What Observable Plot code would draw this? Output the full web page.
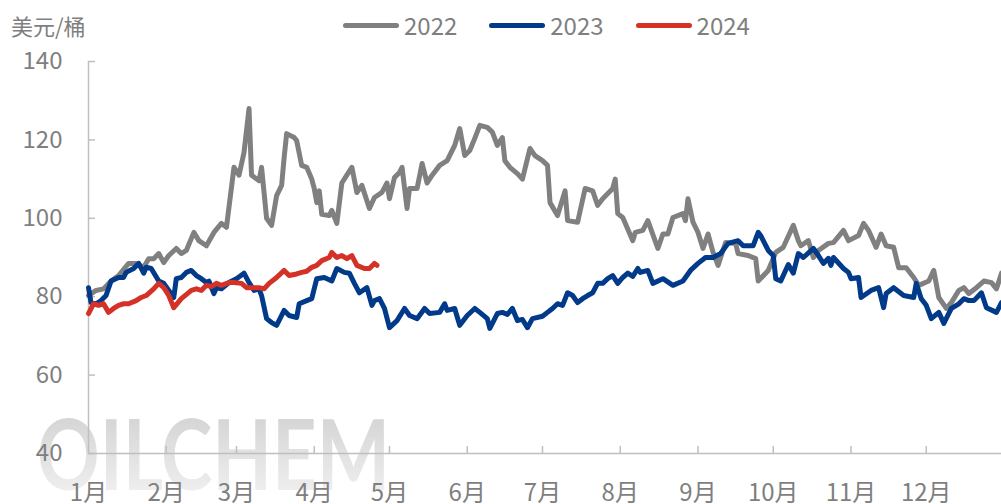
<!DOCTYPE html>
<html>
<head>
<meta charset="utf-8">
<script src="https://cdn.jsdelivr.net/npm/d3@7"></script>
<script src="https://cdn.jsdelivr.net/npm/@observablehq/plot@0.6"></script>
<style>
  html, body { margin: 0; padding: 0; background: #fff; }
  #wrap { position: relative; width: 1001px; height: 504px; overflow: hidden;
          font-family: "Noto Sans CJK SC", "Noto Sans", sans-serif; color: #7f7f7f; }
  #wm { position: absolute; left: 0; top: 0; }
  #chart { position: absolute; left: 0; top: 0; }
  #unit { position: absolute; left: 11px; top: 9px; font-size: 22px; line-height: 32px; color: #7f7f7f; }
  #legend { position: absolute; left: 343px; top: 8px; display: flex; align-items: center; height: 34px; }
  .item { display: flex; align-items: center; margin-right: 32px; }
  .sw { width: 56px; height: 5px; border-radius: 3px; margin-right: 5px; }
  .lab { font-size: 24px; line-height: 34px; color: #7f7f7f; }
</style>
</head>
<body>
<div id="wrap">
  <svg id="wm" width="1001" height="504">
    <defs>
      <linearGradient id="wmg" x1="0" y1="0" x2="0" y2="1">
        <stop offset="0" stop-color="#cdcdcd"/>
        <stop offset="1" stop-color="#f5f5f5"/>
      </linearGradient>
    </defs>
    <text x="37" y="490" font-size="97" font-family="Lato, 'Open Sans', sans-serif" font-weight="700"
          textLength="353" lengthAdjust="spacingAndGlyphs" fill="url(#wmg)">OILCHEM</text>
  </svg>
  <div id="chart"></div>
  <div id="unit">美元/桶</div>
  <div id="legend"></div>
</div>
<script>
// ---- data (day of year, USD/barrel) ----
const years = ["2022", "2023", "2024"];
const colors = ["#808080", "#023a8a", "#d43127"];

const days2022 = [0,3,6,9,12,16,19,22,24,26,28,30,32,35,37,39,42,44,47,50,53,55,58,60,62,64,65,68,69,71,73,75,77,78,79,82,83,85,87,89,90,91,92,93,96,97,99,101,103,105,107,109,112,114,117,119,120,122,124,125,127,128,131,133,135,137,140,143,146,148,150,152,154,156,159,161,163,165,166,168,171,173,176,178,181,183,184,187,190,191,195,198,201,203,205,209,210,211,213,217,218,221,223,227,229,231,233,237,238,239,241,243,245,247,249,251,254,258,259,263,266,267,271,274,277,281,283,284,287,289,291,295,297,301,303,307,309,311,314,316,318,321,323,326,329,331,335,337,339,342,344,347,349,351,354,357,360,362,364];
const vals2022 = [80.3,81.6,82,84,85.4,88.5,88.5,87.5,89.7,89.7,91,88.7,90.5,92.3,91,91.8,96.4,94.3,93,96.4,98.7,97.7,113,111,116.8,128,111,109.6,113,100,98.2,105.8,108.4,115.5,121.6,120.6,119.8,113.5,113,110,107.6,104,107,101,100.7,102,98.7,109,111,113,106.6,108.4,102.5,105.3,106.6,109,105,110.4,111.7,113,102.5,107.6,107.6,114,109,111,113.5,114.7,118.6,122.9,116,117.3,120.4,123.7,123.2,122,118.6,120.6,114.7,113,111.4,110,117.8,116,114.7,113.5,104,100.7,107,99.4,99,107.6,107,103.3,105,107.6,110,101.2,100.2,94.3,96.4,96.9,99.4,92.3,96,96,100.2,101.2,99.4,105,99,96.4,92.3,96,91.3,88,93.8,93.6,91,90.5,89.7,84,86.7,91.3,92.6,98.2,94.3,93,94.3,90,91.8,93.6,93.8,96.9,94.3,95.6,98.7,96.9,92.6,96,93,92.6,87.4,87.4,84.9,82.9,84,86.7,79.8,77,78.5,81.6,82.3,80.8,82.3,84,83.6,82,86];

const days2023 = [0,1,3,5,7,9,12,14,15,18,20,22,23,25,28,30,32,34,35,37,39,41,43,45,47,48,50,51,53,56,59,62,64,66,68,69,71,73,75,78,80,83,84,87,89,91,94,97,99,102,104,106,108,111,113,114,116,118,120,123,126,128,131,134,136,140,142,143,146,148,151,154,156,159,160,163,165,167,169,171,173,175,177,181,183,185,187,189,191,193,195,197,199,201,203,205,207,209,211,213,215,217,219,220,223,225,229,233,237,240,243,246,249,252,255,259,261,265,267,268,271,273,274,276,279,281,283,285,289,291,293,295,296,297,301,303,304,307,308,312,315,317,318,321,325,329,330,332,334,336,339,341,344,347,349,351,353,356,358,362,364];
const vals2023 = [82.3,78.5,78.2,79,80.3,84,84.9,84.9,86.2,87.2,88.5,86,87.5,87.2,84,83.4,81.6,79.8,84.6,84.9,86.2,86.7,85.4,84.6,83.6,84,80.8,82.3,82,83.6,84.6,86,83.6,81.6,82,80.3,74.4,73.4,72.7,76.5,75.2,74.7,78.2,79,79.5,84.6,84.9,84,87.2,86.2,86,83.4,81,82.3,77.8,79,79.5,77,72.1,73.9,77,75.2,74.4,77,75.7,76,78.2,76.5,77,72.7,75.2,77,76,74.4,71.9,75.7,76,75.5,77,73.9,74.2,72.1,74.4,75,76,77,78.2,77.8,81,80.3,78.5,79.5,80.3,81,83.4,83.4,84.6,85.4,83.4,84.9,86,85.2,87.2,86.2,86.7,83.4,84.6,82.9,84,86.7,88.5,90,90,91,93.6,94.3,93,93,96.4,95.6,91.8,90.5,84.6,84,88.2,86,91,90,92.3,90.5,88.5,89.8,88,90,87.2,86.2,84.6,84.9,79.8,81.6,82.3,77.2,80.8,82.3,80.3,79.8,83.4,79.5,77.8,74.4,76,73.2,77,78.2,79.5,79,79,81,77.2,76,78.5];

const days2024 = [0,2,4,6,8,10,12,14,16,19,21,23,26,28,30,32,34,37,41,43,45,47,49,51,53,56,58,61,63,65,68,70,72,75,78,80,83,85,87,89,91,93,96,97,99,101,103,105,107,110,112,114,115];
const vals2024 = [75.7,78.2,77.8,78.2,76,77,77.8,78.2,78.2,79,79.8,80.3,82,83.4,82.3,80.3,77.2,79.5,81.6,82,81.6,82.9,82.6,83.4,82.9,83.6,83.6,83.4,82.3,82.3,82.3,82,83.4,84.9,86.7,85.4,85.8,86.2,86.5,87.5,88,89.2,90,91.3,90,90.5,89.7,90.5,88,87.2,87.2,88.5,88];

const monthStartDays = [0,31,59,90,120,151,181,212,243,273,304,334];
const monthLabels = ["1月","2月","3月","4月","5月","6月","7月","8月","9月","10月","11月","12月"];
const yTicks = [40,60,80,100,120,140];

// ---- build table ----
const seriesDays = [days2022, days2023, days2024];
const seriesVals = [vals2022, vals2023, vals2024];
const rows = [];
years.forEach((yr, k) => seriesDays[k].forEach((d, i) => rows.push({year: yr, day: d, value: seriesVals[k][i]})));

const W = 1001, H = 504, mL = 88, mR = 0, mT = 61, mB = 51;
const axisColor = "#bfbfbf", textColor = "#7f7f7f", tickLen = 7;

const chart = Plot.plot({
  width: W, height: H,
  marginLeft: mL, marginRight: mR, marginTop: mT, marginBottom: mB,
  style: {background: "transparent", fontFamily: '"Noto Sans CJK SC", "Noto Sans", sans-serif', overflow: "visible"},
  x: {domain: [0, 364], axis: null, label: null},
  y: {domain: [40, 140], axis: null, label: null},
  color: {domain: years, range: colors},
  marks: [
    Plot.ruleX([0], {stroke: axisColor, strokeWidth: 1.5}),
    Plot.ruleY([40], {stroke: axisColor, strokeWidth: 1.5}),
    Plot.tickY(yTicks, {y: d => d, stroke: axisColor, strokeWidth: 1.5, insetRight: (W - mL - mR) - tickLen}),
    Plot.tickX(monthStartDays, {x: d => d, stroke: axisColor, strokeWidth: 1.5, insetTop: (H - mT - mB) - tickLen}),
    Plot.axisY(yTicks, {tickSize: 0, tickPadding: 26, fontSize: 24, fill: textColor, label: null}),
    Plot.axisX(monthStartDays, {tickSize: 0, tickPadding: 30, fontSize: 24, fill: textColor, label: null,
      tickFormat: d => monthLabels[monthStartDays.indexOf(d)]}),
    Plot.line(rows, {x: "day", y: "value", z: "year", stroke: "year", strokeWidth: 5,
      strokeLinejoin: "round", strokeLinecap: "round"})
  ]
});
document.getElementById("chart").appendChild(chart);

// ---- legend ----
const leg = document.getElementById("legend");
years.forEach((yr, k) => {
  const it = document.createElement("div"); it.className = "item";
  const sw = document.createElement("span"); sw.className = "sw"; sw.style.background = colors[k];
  const lb = document.createElement("span"); lb.className = "lab"; lb.textContent = yr;
  it.appendChild(sw); it.appendChild(lb); leg.appendChild(it);
});
</script>
</body>
</html>
